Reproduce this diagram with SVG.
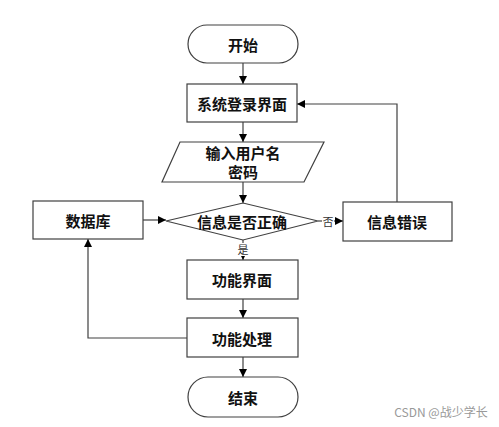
<svg xmlns="http://www.w3.org/2000/svg" width="499" height="427" viewBox="0 0 499 427">
<defs>
<marker id="arr" viewBox="0 0 10 10" refX="10" refY="5" markerWidth="8" markerHeight="8" markerUnits="userSpaceOnUse" orient="auto">
<path d="M0,0 L10,5 L0,10 z" fill="#000"/>
</marker>
<style>
.s{fill:#fff;stroke:#404040;stroke-width:1.2}
.t{font-family:"Noto Sans CJK SC","Noto Sans CJK JP",sans-serif;font-size:15px;font-weight:600;fill:#111;text-anchor:middle;dominant-baseline:central}
.l{font-family:"Noto Sans CJK SC",sans-serif;font-size:11px;fill:#333;text-anchor:middle;dominant-baseline:central}
.c{fill:none;stroke:#404040;stroke-width:1.2;marker-end:url(#arr)}
</style>
</defs>
<rect width="499" height="427" fill="#fff"/>
<g id="connectors">
<path class="c" d="M243,63 V84"/>
<path class="c" d="M243,122 V142"/>
<path class="c" d="M243,182 V203"/>
<path class="c" d="M318,221 H343"/>
<path class="c" d="M243,240 V260"/>
<path class="c" d="M243,299 V318"/>
<path class="c" d="M243,357 V377"/>
<path class="c" d="M397,202 V104 H297"/>
<path class="c" d="M143,220 H166"/>
<path class="c" d="M187,338 H88 V239"/>
<rect x="322" y="214" width="12" height="14" fill="#fff"/>
<text class="l" x="328" y="221">否</text>
<rect x="237" y="243" width="12" height="13" fill="#fff"/>
<text class="l" x="243" y="249">是</text>
</g>
<g id="start"><rect class="s" x="188" y="25" width="110" height="38" rx="19"/><text class="t" x="243" y="44">开始</text></g>
<g id="login"><rect class="s" x="187" y="84" width="110" height="38"/><text class="t" x="242" y="103">系统登录界面</text></g>
<g id="input"><path class="s" d="M180,142 H324 L304,182 H162 Z"/><text class="t" x="243" y="152">输入用户名</text><text class="t" x="243" y="171">密码</text></g>
<g id="check"><path class="s" d="M166,221 L243,203 L318,221 L243,240 Z"/><text class="t" x="242" y="221">信息是否正确</text></g>
<g id="db"><rect class="s" x="33" y="201" width="110" height="38"/><text class="t" x="88" y="220">数据库</text></g>
<g id="error"><rect class="s" x="343" y="202" width="109" height="39"/><text class="t" x="397" y="221">信息错误</text></g>
<g id="func"><rect class="s" x="187" y="260" width="111" height="39"/><text class="t" x="242" y="279">功能界面</text></g>
<g id="proc"><rect class="s" x="187" y="318" width="111" height="39"/><text class="t" x="242" y="338">功能处理</text></g>
<g id="end"><rect class="s" x="188" y="377" width="110" height="40" rx="20"/><text class="t" x="243" y="397">结束</text></g>
<text x="441" y="411" font-family="'Noto Sans CJK SC',sans-serif" font-size="12" fill="#999" text-anchor="middle" dominant-baseline="central">CSDN @战少学长</text>
</svg>
